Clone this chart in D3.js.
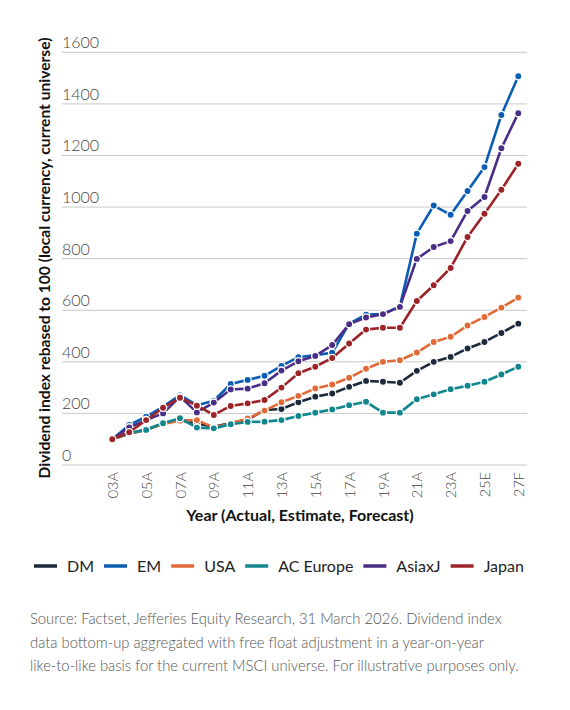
<!DOCTYPE html>
<html>
<head>
<meta charset="utf-8">
<script src="https://cdn.jsdelivr.net/npm/d3@7"></script>
<style>
  html, body { margin: 0; padding: 0; background: #fff; }
  body { width: 570px; height: 710px; overflow: hidden; font-family: Lato, "Noto Sans", sans-serif; }
</style>
</head>
<body>
<div id="chart"></div>
<script>
// years on the category axis
const years = ["03A", "04A", "05A", "06A", "07A", "08A", "09A", "10A", "11A", "12A", "13A", "14A",
    "15A", "16A", "17A", "18A", "19A", "20A", "21A", "22A", "23A", "24A", "25E", "26F", "27F"];
// only every other year gets a label
const tickLabels = ["03A", "05A", "07A", "09A", "11A", "13A", "15A", "17A", "19A", "21A", "23A", "25E", "27F"];
const yTicks = [0, 200, 400, 600, 800, 1000, 1200, 1400, 1600];

const seriesNames = ["DM", "EM", "USA", "AC Europe", "AsiaxJ", "Japan"];
const seriesColors = ["#1d2a3b", "#0b5cb5", "#e06a38", "#12868e", "#4a2d85", "#9c2327"];

const dm = [100, 123, 138, 161, 174, 161, 148, 163, 176, 213, 217, 243, 265, 277, 303, 326, 323, 319, 365, 400, 419, 452, 477, 512, 548];
const em = [100, 155, 187, 226, 271, 232, 249, 314, 330, 346, 384, 418, 426, 435, 548, 583, 585, 615, 897, 1006, 970, 1062, 1155, 1357, 1507];
const usa = [100, 120, 136, 159, 172, 174, 146, 160, 180, 211, 243, 268, 297, 312, 338, 373, 400, 406, 436, 477, 497, 541, 574, 610, 649];
const acEurope = [100, 123, 136, 162, 181, 145, 142, 158, 167, 168, 174, 190, 203, 215, 232, 245, 203, 203, 255, 274, 294, 307, 323, 351, 381];
const asiaxJ = [100, 146, 174, 200, 265, 204, 242, 293, 296, 317, 366, 402, 423, 465, 546, 572, 585, 613, 799, 845, 868, 985, 1039, 1228, 1364];
const japan = [100, 127, 174, 222, 261, 230, 194, 229, 239, 252, 300, 356, 381, 415, 471, 525, 532, 532, 636, 697, 764, 884, 974, 1067, 1168];

const seriesValues = [dm, em, usa, acEurope, asiaxJ, japan];

const yTitle = "Dividend index rebased to 100 (local currency, current universe)";
const xTitle = "Year (Actual, Estimate, Forecast)";
const sourceLines = [
    "Source: Factset, Jefferies Equity Research, 31 March 2026. Dividend index",
    "data bottom-up aggregated with free float adjustment in a year-on-year",
    "like-to-like basis for the current MSCI universe. For illustrative purposes only."
];

const width = 570, height = 710;
const gridLeft = 62, gridRight = 527;

const svg = d3.select("#chart").append("svg")
    .attr("width", width)
    .attr("height", height);

const x = d3.scalePoint()
    .domain(years)
    .range([112.3, 518.3]);

const y = d3.scaleLinear()
    .domain([0, 1600])
    .range([465, 52.3]);

// gridlines with labels sitting on top of them
const grid = svg.append("g");
grid.selectAll("line")
    .data(yTicks)
    .enter().append("line")
    .attr("x1", gridLeft)
    .attr("x2", gridRight)
    .attr("y1", d => y(d))
    .attr("y2", d => y(d))
    .attr("stroke", "#c8c8c8")
    .attr("stroke-width", 1);

grid.selectAll("text")
    .data(yTicks)
    .enter().append("text")
    .attr("x", gridLeft)
    .attr("y", d => y(d) - 4)
    .attr("font-size", 16)
    .attr("font-weight", 300)
    .attr("fill", "#444")
    .text(d => d);

// x axis labels, rotated
const xAxis = d3.axisBottom(x)
    .tickValues(tickLabels)
    .tickSize(0)
    .tickPadding(0);

const xg = svg.append("g")
    .attr("transform", "translate(0,465)")
    .call(xAxis);
xg.select(".domain").remove();
xg.selectAll("text")
    .attr("font-family", "Lato, sans-serif")
    .attr("font-size", 14.5)
    .attr("font-weight", 300)
    .attr("fill", "#444")
    .attr("transform", "rotate(-90)")
    .attr("text-anchor", "end")
    .attr("x", -7)
    .attr("y", 0)
    .attr("dy", "0.35em");

svg.append("text")
    .attr("x", 300)
    .attr("y", 521)
    .attr("text-anchor", "middle")
    .attr("font-size", 16)
    .attr("font-weight", 700)
    .attr("fill", "#111")
    .text(xTitle);

svg.append("text")
    .attr("transform", "translate(50,258) rotate(-90)")
    .attr("text-anchor", "middle")
    .attr("font-size", 15.6)
    .attr("font-weight", 700)
    .attr("fill", "#111")
    .text(yTitle);

// lines and markers
const line = d3.line()
    .x((d, i) => x(years[i]))
    .y(d => y(d));

seriesValues.forEach((vals, s) => {
    const g = svg.append("g");
    g.append("path")
        .datum(vals)
        .attr("d", line)
        .attr("fill", "none")
        .attr("stroke", seriesColors[s])
        .attr("stroke-width", 2.6)
        .attr("stroke-linejoin", "round");
    g.selectAll("circle")
        .data(vals)
        .enter().append("circle")
        .attr("cx", (d, i) => x(years[i]))
        .attr("cy", d => y(d))
        .attr("r", 3.6)
        .attr("fill", seriesColors[s])
        .attr("stroke", "#fff")
        .attr("stroke-width", 1.3);
});

// legend
const legend = svg.append("g").attr("transform", "translate(34,566)");
let lx = 0;
seriesNames.forEach((name, s) => {
    legend.append("line")
        .attr("x1", lx)
        .attr("x2", lx + 23)
        .attr("y1", 0)
        .attr("y2", 0)
        .attr("stroke", seriesColors[s])
        .attr("stroke-width", 3.5);
    const t = legend.append("text")
        .attr("x", lx + 33)
        .attr("y", 0)
        .attr("dy", "0.35em")
        .attr("font-size", 16)
        .attr("fill", "#222")
        .text(name);
    lx += 33 + t.node().getComputedTextLength() + 10;
});

// source note
svg.append("g").selectAll("text")
    .data(sourceLines)
    .enter().append("text")
    .attr("x", 30)
    .attr("y", (d, i) => 624 + i * 23.7)
    .attr("font-size", 14.8)
    .attr("font-weight", 300)
    .attr("fill", "#555")
    .text(d => d);
</script>
</body>
</html>
